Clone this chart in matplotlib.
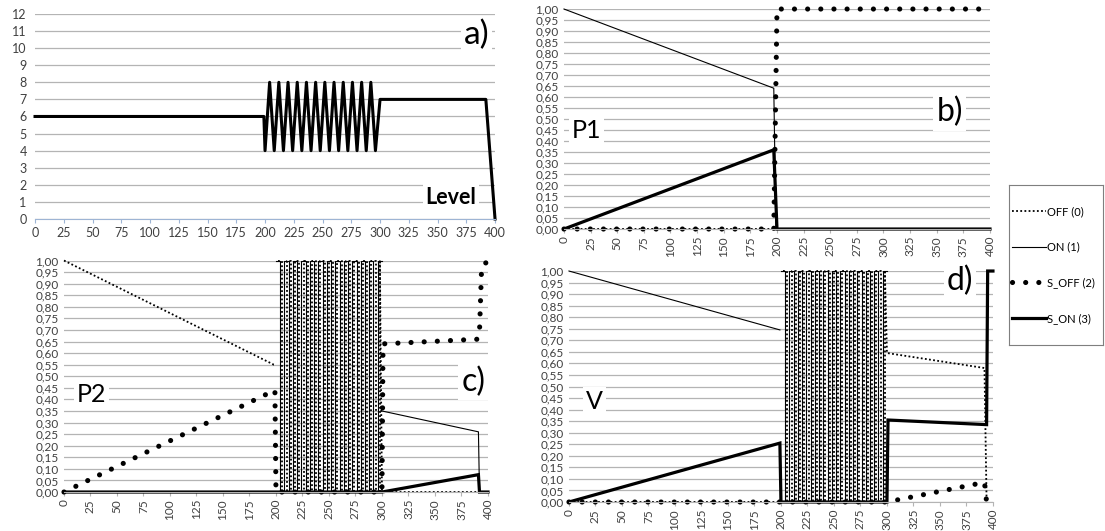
import matplotlib
matplotlib.use("Agg")
import matplotlib.pyplot as plt
from matplotlib.ticker import FuncFormatter, MultipleLocator

plt.rcParams['font.family'] = ['Lato', 'DejaVu Sans']

# ---- data -------------------------------------------------------------
# a) level
lvl_x = [0, 199, 200, 204, 208, 212, 216, 220, 224, 228, 232, 236, 240, 244, 248,
         252, 256, 260, 264, 268, 272, 276, 280, 284, 288, 292, 296, 300, 392, 400]
lvl_y = [6, 6, 4, 8, 4, 8, 4, 8, 4, 8, 4, 8, 4, 8, 4,
         8, 4, 8, 4, 8, 4, 8, 4, 8, 4, 8, 4, 7, 7, 0]

# switching times used in c) and d) between 200 and 300
on_sw_x = [200, 204, 208, 212, 216, 220, 224, 228, 232, 236, 240, 244, 248,
           252, 256, 260, 264, 268, 272, 276, 280, 284, 288, 292, 296, 300]
on_sw_y = [1, 0, 1, 0, 1, 0, 1, 0, 1, 0, 1, 0, 1,
           0, 1, 0, 1, 0, 1, 0, 1, 0, 1, 0, 1, 1]
off_sw_x = [202, 206, 210, 214, 218, 222, 226, 230, 234, 238, 242, 246, 250,
            254, 258, 262, 266, 270, 274, 278, 282, 286, 290, 294, 298]
off_sw_y = [1, 0, 1, 0, 1, 0, 1, 0, 1, 0, 1, 0, 1,
            0, 1, 0, 1, 0, 1, 0, 1, 0, 1, 0, 1]

# b) P1
b_off_x, b_off_y = [0, 400], [0, 0]
b_on_x, b_on_y = [0, 197, 199, 400], [1.0, 0.64, 0.0, 0.0]
b_soff_x, b_soff_y = [0, 197, 200, 400], [0.0, 0.0, 1.0, 1.0]
b_son_x, b_son_y = [0, 197, 200, 400], [0.0, 0.36, 0.0, 0.0]

# c) P2
c_off_x, c_off_y = [0, 198, 200], [1.0, 0.55, 0.55]
c_off2_x, c_off2_y = [298, 300, 392], [1.0, 0.0, 0.0]
c_on_x, c_on_y = [0, 198], [0.0, 0.0]
c_on2_x, c_on2_y = [300, 391, 392, 400], [0.35, 0.26, 0.0, 0.0]
c_soff_x = [0, 199, 200, 300, 301, 390, 392, 394, 400]
c_soff_y = [0.0, 0.44, 0.0, 0.0, 0.64, 0.66, 0.69, 0.97, 1.0]
c_son_x = [0, 200, 300, 391, 392, 400]
c_son_y = [0.0, 0.0, 0.0, 0.075, 0.0, 0.0]

# d) V
d_on_x, d_on_y = [0, 199], [1.0, 0.745]
d_off_x, d_off_y = [0, 199], [0.0, 0.0]
d_off2_x, d_off2_y = [298, 300, 392, 394], [1.0, 0.645, 0.58, 0.0]
d_soff_x = [0, 200, 300, 392, 394]
d_soff_y = [0.0, 0.0, 0.0, 0.085, 0.0]
d_son_x = [0, 199, 200, 300, 301, 394, 395, 400]
d_son_y = [0.0, 0.255, 0.0, 0.0, 0.355, 0.335, 1.0, 1.0]

labels = ['OFF (0)', 'ON (1)', 'S_OFF (2)', 'S_ON (3)']

# ---- styles -----------------------------------------------------------
OFF = dict(color='black', lw=1.3, linestyle=(0, (1, 1.3)), clip_on=False)
ON = dict(color='black', lw=0.8, linestyle='-', clip_on=False)
SOFF = dict(color='black', lw=3.7, linestyle=(0, (0.01, 2.55)),
            dash_capstyle='round', clip_on=False)
SON = dict(color='black', lw=2.3, linestyle='-', solid_joinstyle='miter', clip_on=False)

GRID = '#b4b4b4'
TXT = '#404040'
BOX = dict(facecolor='white', edgecolor='none', pad=2)


def style_prob(ax):
    ax.set_xlim(0, 400)
    ax.set_ylim(0, 1)
    ax.xaxis.set_major_locator(MultipleLocator(25))
    ax.yaxis.set_major_locator(MultipleLocator(0.05))
    ax.yaxis.set_major_formatter(FuncFormatter(lambda v, p: ('%.2f' % v).replace('.', ',')))
    ax.grid(axis='y', color=GRID, lw=0.9)
    ax.set_axisbelow(True)
    for s in ['top', 'right', 'left']:
        ax.spines[s].set_visible(False)
    ax.spines['bottom'].set_color(GRID)
    ax.tick_params(axis='y', length=0, pad=4, labelsize=8.5, labelcolor=TXT)
    ax.tick_params(axis='x', length=3, color=GRID, pad=2, labelsize=8.5,
                   labelcolor=TXT, labelrotation=90)


def tag(ax, x, y, s, size):
    ax.text(x, y, s, transform=ax.transAxes, fontsize=size, ha='center', va='center', bbox=BOX)


fig = plt.figure(figsize=(11.05, 5.31), dpi=100)

# a)
axa = fig.add_axes([0.0317, 0.5876, 0.4163, 0.3861])
axa.plot(lvl_x, lvl_y, color='black', lw=2.2, clip_on=False)
axa.set_xlim(0, 400)
axa.set_ylim(0, 12)
axa.xaxis.set_major_locator(MultipleLocator(25))
axa.yaxis.set_major_locator(MultipleLocator(1))
axa.grid(axis='y', color=GRID, lw=0.9)
axa.set_axisbelow(True)
for s in ['top', 'right', 'left']:
    axa.spines[s].set_visible(False)
axa.spines['bottom'].set_color('#9db4d4')
axa.tick_params(axis='y', length=0, pad=6, labelsize=9, labelcolor=TXT)
axa.tick_params(axis='x', length=3, color='#9db4d4', pad=3, labelsize=9, labelcolor=TXT)
tag(axa, 0.96, 0.9, 'a)', 24)
axa.text(0.904, 0.107, 'Level', transform=axa.transAxes, fontsize=15.5, fontweight='bold',
         ha='center', va='center', bbox=BOX)

# b)
axb = fig.add_axes([0.5104, 0.5687, 0.3855, 0.4143])
h_off, = axb.plot(b_off_x, b_off_y, **OFF)
h_on, = axb.plot(b_on_x, b_on_y, **ON)
h_soff, = axb.plot(b_soff_x, b_soff_y, **SOFF)
h_son, = axb.plot(b_son_x, b_son_y, **SON)
style_prob(axb)
tag(axb, 0.905, 0.53, 'b)', 23)
tag(axb, 0.054, 0.45, 'P1', 18)

# c)
axc = fig.add_axes([0.0579, 0.0734, 0.3837, 0.436])
axc.plot(c_off_x, c_off_y, **OFF)
axc.step(off_sw_x, off_sw_y, where='post', **OFF)
axc.plot(c_off2_x, c_off2_y, **OFF)
axc.plot(c_on_x, c_on_y, **ON)
axc.step(on_sw_x, on_sw_y, where='post', **ON)
axc.plot(c_on2_x, c_on2_y, **ON)
axc.plot(c_soff_x, c_soff_y, **SOFF)
axc.plot(c_son_x, c_son_y, **SON)
style_prob(axc)
tag(axc, 0.965, 0.475, 'c)', 23)
tag(axc, 0.065, 0.423, 'P2', 18)

# d)
axd = fig.add_axes([0.5149, 0.0546, 0.3837, 0.435])
axd.plot(d_off_x, d_off_y, **OFF)
axd.step(off_sw_x, off_sw_y, where='post', **OFF)
axd.plot(d_off2_x, d_off2_y, **OFF)
axd.plot(d_on_x, d_on_y, **ON)
axd.step(on_sw_x, on_sw_y, where='post', **ON)
axd.plot(d_soff_x, d_soff_y, **SOFF)
axd.plot(d_son_x, d_son_y, **SON)
style_prob(axd)
tag(axd, 0.922, 0.955, 'd)', 23)
tag(axd, 0.06, 0.437, 'V', 18)

# legend sits in its own framed box on the right
axl = fig.add_axes([1009 / 1105, 1 - 345 / 531, 94 / 1105, 160 / 531])
axl.set_xticks([])
axl.set_yticks([])
for s in axl.spines.values():
    s.set_color('#7f7f7f')
    s.set_linewidth(0.8)
axl.legend([h_off, h_on, h_soff, h_son], labels, loc='center left',
           frameon=False, fontsize=8, labelspacing=2.2, handlelength=3.0,
           handletextpad=0.1, borderpad=0, borderaxespad=0.3)

fig.savefig('out.png', dpi=100)
